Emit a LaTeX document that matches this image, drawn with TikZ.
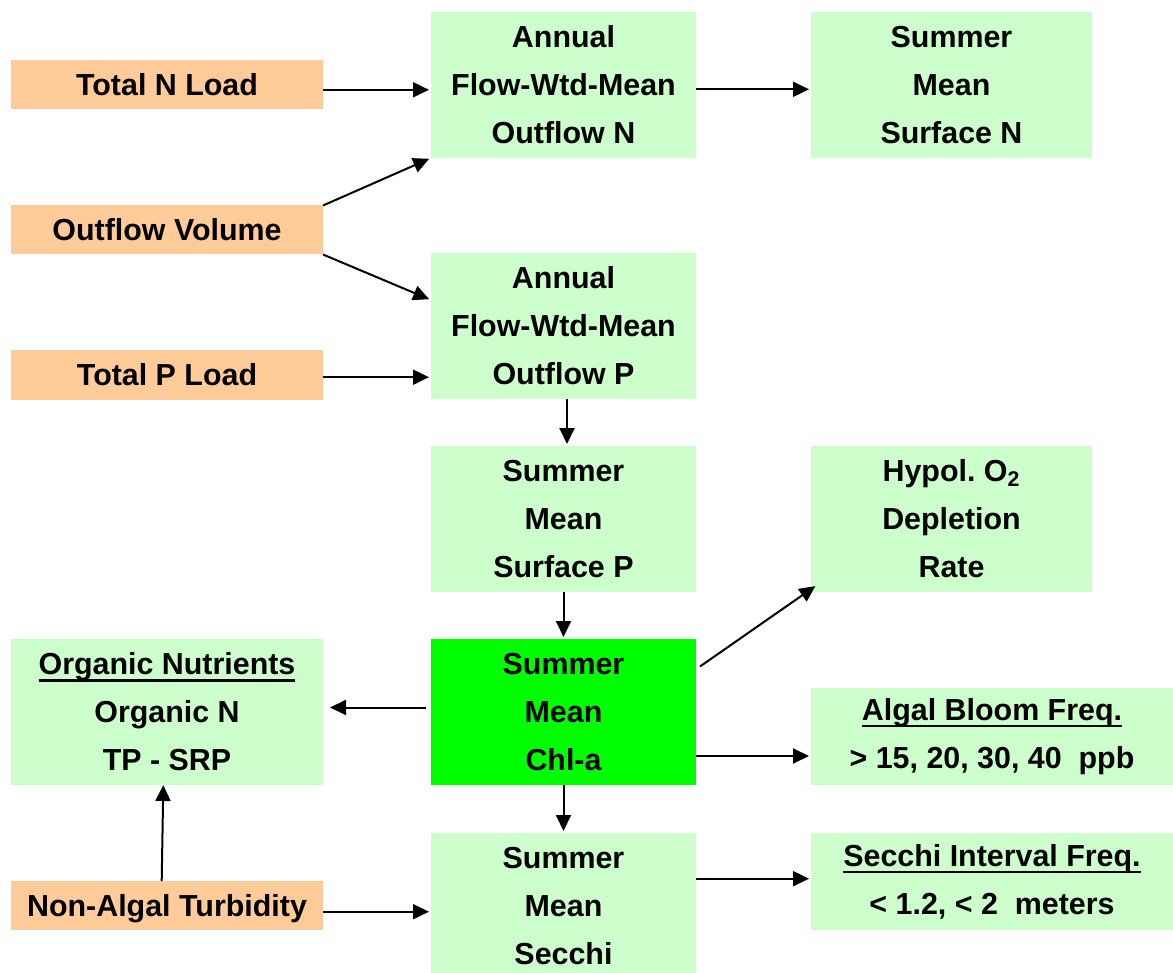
\documentclass[tikz,border=0pt]{standalone}
\usepackage{fontspec}
\setmainfont{Liberation Sans}
\usepackage{tikz}
\usetikzlibrary{arrows.meta}
\usetikzlibrary{positioning}
\definecolor{paleorange}{HTML}{FFCC99}
\definecolor{palegreen}{HTML}{CCFFCC}
\definecolor{chlgreen}{HTML}{00FF00}
\newcommand{\ulhead}[1]{\setbox0\hbox{#1}\rlap{\rule[-3.4pt]{\wd0}{1.2pt}}\box0}
\tikzstyle{loadbox}  =
[
	rectangle,fill=paleorange,inner sep=0pt,outer sep=0pt,
	minimum width=156pt, minimum height=24.5pt,
	text height=10.9pt, text depth=0pt,
	font=\fontsize{15.2pt}{24pt}\selectfont\bfseries
]
\tikzstyle{greenbox} = 
[
	rectangle,fill=palegreen,inner sep=0pt,outer sep=0pt,align=center,
	minimum width=132.5pt, minimum height=73pt,
	font=\fontsize{15.2pt}{24pt}\selectfont\bfseries
]
\tikzstyle{chlbox} = [greenbox, fill=chlgreen]
\tikzstyle{outbox} = [greenbox, minimum width=140.5pt]
\tikzstyle{nutbox} = [greenbox, minimum width=156pt]
\tikzstyle{freqbox} = [greenbox, minimum width=181pt, minimum height=48.5pt]

\begin{document}
\begin{tikzpicture}[->,>={Triangle[length=8pt,width=7.5pt]},shorten >=1pt,line width=1pt]
\useasboundingbox (0,0) rectangle (586.5pt,-486.5pt);

\node[greenbox, anchor=north west] (fwmn) at (215.5pt,-6pt) {Annual\\Flow-Wtd-Mean\\Outflow N};
\node[outbox] (surfn) [right=57.5pt of fwmn] {Summer\\Mean\\Surface N};
\node[greenbox] (fwmp) [below=47.5pt of fwmn] {Annual\\Flow-Wtd-Mean\\Outflow P};
\node[greenbox] (surfp) [below=23.5pt of fwmp] {Summer\\Mean\\Surface P};
\node[outbox] (hypol) [right=57.5pt of surfp] {Hypol.\ O\textsubscript{2}\\Depletion\\Rate};
\node[chlbox] (chla) [below=23.5pt of surfp] {Summer\\Mean\\Chl-a};
\node[greenbox] (secchi) [below=24pt of chla] {Summer\\Mean\\Secchi};

\node[freqbox, anchor=south west] (algal) at ([xshift=57.5pt]chla.south east) {\ulhead{Algal Bloom Freq.}\\> 15, 20, 30, 40 \ ppb};
\node[freqbox, anchor=north west] (secint) at ([xshift=57.5pt]secchi.north east) {\ulhead{Secchi Interval Freq.}\\< 1.2, < 2 \ meters};

\node[loadbox] (tn) [left=54pt of fwmn] {Total N Load};
\node[loadbox] (ov) [below=48pt of tn] {Outflow Volume};
\node[loadbox] (tp) [below=48pt of ov] {Total P Load};
\node[nutbox] (orgnut) [left=54pt of chla] {\ulhead{Organic Nutrients}\\Organic N\\TP - SRP};
\node[loadbox] (nonalg) [below=48pt of orgnut] {Non-Algal Turbidity};
%
\path
	([yshift=-2.4pt]tn.east) edge ([yshift=-2.4pt]tn.east -| fwmn.west)
	([yshift=-2.15pt]fwmn.east) edge ([yshift=-2.15pt]fwmn.east -| surfn.west)
	(ov.north east) edge (fwmn.south west)
	(ov.south east) edge ([yshift=13pt]fwmp.west)
	([yshift=-1.1pt]tp.east) edge ([yshift=-1.1pt]tp.east -| fwmp.west);

\path
	([xshift=1.75pt]fwmp.south) edge ([xshift=1.75pt]surfp.north)
	(surfp) edge (chla)
	(chla) edge (secchi)
	([shift={(2pt,22.75pt)}]chla.east) edge ([shift={(3pt,3.5pt)}]hypol.south west)
	([yshift=2.25pt]chla.west) edge[shorten <=2.5pt, shorten >=3.5pt] ([yshift=2.25pt]orgnut.east)
	([yshift=-9.75pt]algal.west -| chla.east) edge ([yshift=-9.75pt]algal.west);

\path
	([xshift=-2.65pt]nonalg.north) edge[shorten >=0pt] ([xshift=-1.85pt]orgnut.south)
	([yshift=-3.1pt]nonalg.east) edge ([yshift=-3.1pt]nonalg.east -| secchi.west)
	([yshift=1.4pt]secint.west -| secchi.east) edge ([yshift=1.4pt]secint.west);

\end{tikzpicture}
\end{document}
